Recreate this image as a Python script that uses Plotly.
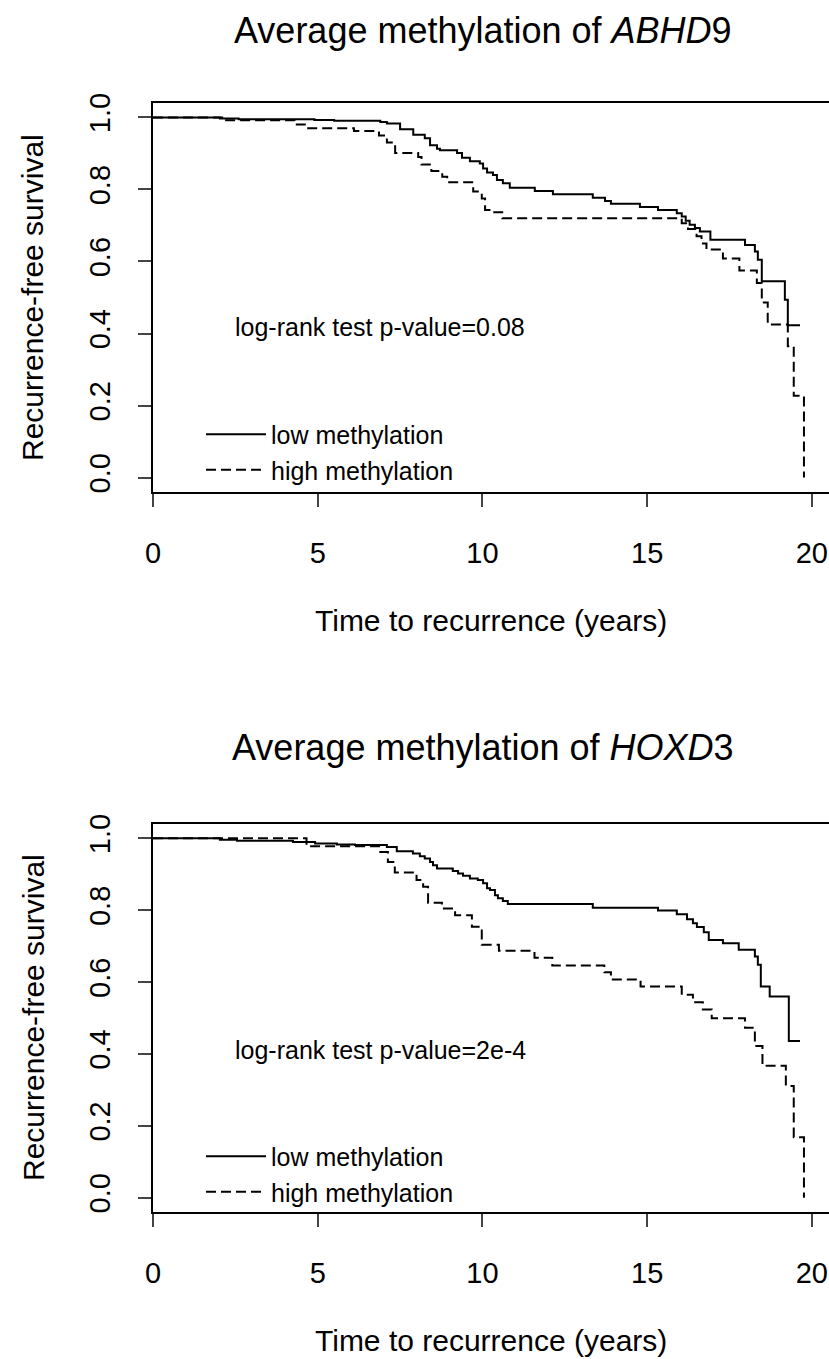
import plotly.graph_objects as go

W, H = 829, 1359

# ---------------- data ----------------
abhd9_low_t = [0, 2.03, 2.6, 4.9, 5.5, 6.9, 7.1, 7.5, 7.9, 8.25, 8.41, 8.62, 8.71, 9.23, 9.38, 9.62,
               9.92, 10.02, 10.14, 10.32, 10.44, 10.62, 10.83, 11.59, 12.14, 13.35, 13.72, 13.9, 14.78,
               15.33, 15.9, 16.05, 16.17, 16.29, 16.45, 16.6, 16.92, 17.97, 18.27, 18.36, 18.48, 19.18,
               19.27, 19.64]
abhd9_low_s = [1.0, 0.997, 0.995, 0.993, 0.991, 0.987, 0.983, 0.967, 0.952, 0.942, 0.923, 0.913, 0.909,
               0.901, 0.888, 0.878, 0.872, 0.858, 0.847, 0.840, 0.826, 0.817, 0.805, 0.796, 0.787, 0.777,
               0.768, 0.760, 0.751, 0.743, 0.734, 0.725, 0.713, 0.702, 0.693, 0.683, 0.660, 0.646, 0.628,
               0.605, 0.545, 0.494, 0.423, 0.423]

abhd9_high_t = [0, 2.1, 4.3, 4.67, 6.1, 6.86, 7.1, 7.35, 8.05, 8.15, 8.45, 8.78, 8.93, 9.72, 9.98, 10.08,
                10.32, 10.6, 16.05, 16.24, 16.5, 16.65, 16.8, 17.3, 17.8, 18.33, 18.48, 18.66, 19.27,
                19.45, 19.76]
abhd9_high_s = [1.0, 0.992, 0.980, 0.970, 0.962, 0.950, 0.930, 0.901, 0.890, 0.869, 0.851, 0.835, 0.820,
                0.794, 0.775, 0.743, 0.737, 0.720, 0.706, 0.690, 0.670, 0.650, 0.633, 0.608, 0.575, 0.540,
                0.486, 0.425, 0.365, 0.227, 0.0]

hoxd3_low_t = [0, 2.03, 2.55, 4.25, 4.92, 5.58, 6.13, 7.10, 7.40, 7.89, 8.10, 8.25, 8.41, 8.50, 8.62,
               9.10, 9.26, 9.41, 9.62, 9.86, 10.02, 10.14, 10.23, 10.38, 10.47, 10.62, 10.77, 13.35,
               15.33, 15.90, 16.21, 16.39, 16.51, 16.72, 16.87, 17.30, 17.78, 18.27, 18.36, 18.45, 18.72,
               19.30, 19.64]
hoxd3_low_s = [1.0, 0.9964, 0.9936, 0.9898, 0.986, 0.983, 0.9814, 0.976, 0.964, 0.958, 0.950, 0.944,
               0.934, 0.925, 0.916, 0.909, 0.902, 0.896, 0.888, 0.884, 0.875, 0.861, 0.856, 0.842, 0.833,
               0.826, 0.817, 0.807, 0.799, 0.789, 0.775, 0.764, 0.753, 0.739, 0.717, 0.708, 0.690, 0.671,
               0.648, 0.588, 0.560, 0.436, 0.436]

hoxd3_high_t = [0, 4.66, 6.9, 7.13, 7.34, 8.0, 8.2, 8.35, 8.77, 9.17, 9.68, 9.98, 10.5, 11.58, 12.12,
                13.7, 13.9, 14.8, 16.05, 16.39, 16.69, 16.96, 17.97, 18.27, 18.5, 19.21, 19.45, 19.76]
hoxd3_high_s = [1.0, 0.978, 0.962, 0.934, 0.905, 0.884, 0.865, 0.821, 0.805, 0.786, 0.754, 0.704, 0.687,
                0.668, 0.646, 0.627, 0.607, 0.588, 0.565, 0.544, 0.524, 0.499, 0.473, 0.422, 0.367, 0.311,
                0.168, 0.0]

x_ticks = [0, 5, 10, 15, 20]
y_ticks = [0.0, 0.2, 0.4, 0.6, 0.8, 1.0]
y_tick_labels = ["0.0", "0.2", "0.4", "0.6", "0.8", "1.0"]

panel_titles = ["Average methylation of <i>ABHD</i>9", "Average methylation of <i>HOXD</i>3"]
pvalue_texts = ["log-rank test p-value=0.08", "log-rank test p-value=2e-4"]
series_names = ["low methylation", "high methylation"]
x_title = "Time to recurrence (years)"
y_title = "Recurrence-free survival"

# ---------------- styling ----------------
FONT = "Liberation Sans, Arial, Helvetica, sans-serif"
LW = 2


def py(pix):
    return 1 - pix / H


def px(pix):
    return pix / W


fig = go.Figure()

panels = [
    (abhd9_low_t, abhd9_low_s, abhd9_high_t, abhd9_high_s, "x", "y", "legend"),
    (hoxd3_low_t, hoxd3_low_s, hoxd3_high_t, hoxd3_high_s, "x2", "y2", "legend2"),
]
for lt, ls, ht, hs, xa, ya, lg in panels:
    fig.add_trace(go.Scatter(x=lt, y=ls, mode="lines", line=dict(shape="hv", color="black", width=LW),
                             name=series_names[0], xaxis=xa, yaxis=ya, legend=lg))
    fig.add_trace(go.Scatter(x=ht, y=hs, mode="lines",
                             line=dict(shape="hv", color="black", width=LW, dash="10px,5px"),
                             name=series_names[1], xaxis=xa, yaxis=ya, legend=lg))

# plot-area boxes (pixel positions of the reference)
boxes = [(103, 492), (824, 1212)]

common_x = dict(range=[0, 20.52], tickvals=x_ticks, ticks="outside", ticklen=13, tickwidth=1.5,
                showline=True, linecolor="black", linewidth=1.5, mirror=True, showgrid=False,
                zeroline=False, tickfont=dict(family=FONT, size=29, color="black"),
                ticklabelstandoff=21, domain=[px(153), 1.0], automargin=False)
common_y = dict(range=[-0.04, 1.04], tickvals=y_ticks, ticktext=y_tick_labels, ticks="outside",
                ticklen=13, tickwidth=1.5, showline=True, linecolor="black", linewidth=1.5,
                mirror=False, showgrid=False, zeroline=False, tickangle=-90,
                tickfont=dict(family=FONT, size=29, color="black"), ticklabelstandoff=17,
                automargin=False)

legend_common = dict(xanchor="left", yanchor="middle", bgcolor="rgba(0,0,0,0)",
                     font=dict(family=FONT, size=25, color="black"), itemwidth=60, tracegroupgap=0)

fig.update_layout(
    width=W, height=H,
    margin=dict(l=0, r=0, t=0, b=0, autoexpand=False),
    paper_bgcolor="white", plot_bgcolor="white",
    font=dict(family=FONT, color="black"),
    xaxis=dict(common_x, anchor="y"),
    yaxis=dict(common_y, anchor="x", domain=[py(boxes[0][1]), py(boxes[0][0])]),
    xaxis2=dict(common_x, anchor="y2"),
    yaxis2=dict(common_y, anchor="x2", domain=[py(boxes[1][1]), py(boxes[1][0])]),
    legend=dict(legend_common, x=px(201), y=py(452)),
    legend2=dict(legend_common, x=px(201), y=py(1174)),
    showlegend=True,
)

annotations = []
title_y = [30, 747]
xtitle_y = [620, 1340]
ytitle_y = [298, 1018]
pval_y = [327, 1050]
for i in range(2):
    annotations.append(dict(text=panel_titles[i], x=px(483), y=py(title_y[i]), xref="paper", yref="paper",
                            xanchor="center", yanchor="middle", showarrow=False,
                            font=dict(family=FONT, size=36, color="black")))
    annotations.append(dict(text=x_title, x=px(491), y=py(xtitle_y[i]), xref="paper", yref="paper",
                            xanchor="center", yanchor="middle", showarrow=False,
                            font=dict(family=FONT, size=30, color="black")))
    annotations.append(dict(text=y_title, x=px(33), y=py(ytitle_y[i]), xref="paper", yref="paper",
                            xanchor="center", yanchor="middle", showarrow=False, textangle=-90,
                            font=dict(family=FONT, size=30, color="black")))
    annotations.append(dict(text=pvalue_texts[i], x=px(233), y=py(pval_y[i]), xref="paper", yref="paper",
                            xanchor="left", yanchor="middle", showarrow=False,
                            font=dict(family=FONT, size=25, color="black")))
fig.update_layout(annotations=annotations)

fig.write_html("out.html")
